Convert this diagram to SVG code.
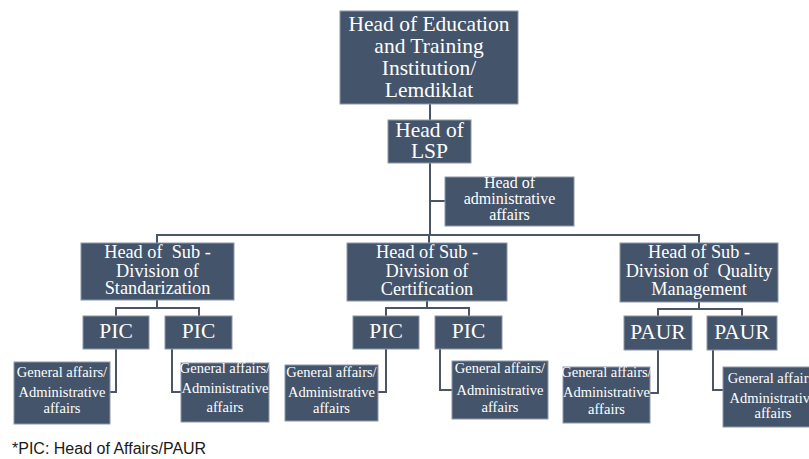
<svg xmlns="http://www.w3.org/2000/svg" width="809" height="459" viewBox="0 0 809 459">
  <style>
    .box { fill: #44546a; stroke: #8d98a8; stroke-width: 1; }
    .lbl { fill: #ffffff; font-family: "Liberation Serif", "Times New Roman", serif; text-anchor: middle; }
    .t1 { font-size: 21.5px; }
    .t2 { font-size: 18.3px; }
    .t3 { font-size: 16px; }
    .t4 { font-size: 14.5px; }
    .conn { fill: none; stroke: #4a5566; stroke-width: 2; }
    .note { fill: #1a1a1a; font-family: "Liberation Sans", Arial, sans-serif; font-size: 16px; }
  </style>

  <rect width="809" height="459" fill="#ffffff"/>

  <!-- connectors -->
  <g id="connectors" class="conn">
    <path d="M430 104 V120"/>
    <path d="M430 163 V235"/>
    <path d="M430 201 H445"/>
    <path d="M157 243 V235 H699 V243"/>
    <path d="M429 235 V243"/>
    <!-- standardization -->
    <path d="M157 300 V308"/>
    <path d="M116 316 V308 H199 V316"/>
    <!-- certification -->
    <path d="M427 301 V308"/>
    <path d="M386 316 V308 H469 V316"/>
    <!-- quality management -->
    <path d="M699 302 V309"/>
    <path d="M658 316 V309 H742 V316"/>
    <!-- general affairs links -->
    <path d="M116 349 V392 H110"/>
    <path d="M172 349 V392 H181"/>
    <path d="M386 349 V392 H378"/>
    <path d="M440 349 V390 H452"/>
    <path d="M658 350 V393 H650"/>
    <path d="M713 350 V390 H723"/>
  </g>

  <g id="lemdiklat">
    <rect class="box" x="340" y="11" width="178" height="93"/>
    <text class="lbl t1" x="429" y="31">Head of Education</text>
    <text class="lbl t1" x="429" y="53">and Training</text>
    <text class="lbl t1" x="429" y="75">Institution/</text>
    <text class="lbl t1" x="429" y="97">Lemdiklat</text>
  </g>

  <g id="head-lsp">
    <rect class="box" x="388" y="120" width="83" height="43"/>
    <text class="lbl t1" x="429.5" y="137">Head of</text>
    <text class="lbl t1" x="429.5" y="158">LSP</text>
  </g>

  <g id="admin-affairs">
    <rect class="box" x="445" y="177" width="129" height="49"/>
    <text class="lbl t3" x="509.5" y="188">Head of</text>
    <text class="lbl t3" x="509.5" y="204">administrative</text>
    <text class="lbl t3" x="509.5" y="220">affairs</text>
  </g>

  <g id="sub-standardization">
    <rect class="box" x="81" y="243" width="153" height="57"/>
    <text class="lbl t2" x="157.5" y="258" xml:space="preserve">Head of  Sub -</text>
    <text class="lbl t2" x="157.5" y="277">Division of</text>
    <text class="lbl t2" x="157.5" y="294">Standarization</text>
  </g>

  <g id="sub-certification">
    <rect class="box" x="347" y="243" width="160" height="58"/>
    <text class="lbl t2" x="427" y="258">Head of Sub -</text>
    <text class="lbl t2" x="427" y="277">Division of</text>
    <text class="lbl t2" x="427" y="295">Certification</text>
  </g>

  <g id="sub-quality">
    <rect class="box" x="620" y="243" width="158" height="59"/>
    <text class="lbl t2" x="699" y="258">Head of Sub -</text>
    <text class="lbl t2" x="699" y="277" xml:space="preserve">Division of  Quality</text>
    <text class="lbl t2" x="699" y="295">Management</text>
  </g>

  <g id="pic-std-1">
    <rect class="box" x="83" y="316" width="66" height="33"/>
    <text class="lbl t1" x="116" y="338">PIC</text>
  </g>
  <g id="pic-std-2">
    <rect class="box" x="165" y="316" width="67" height="33"/>
    <text class="lbl t1" x="198.5" y="338">PIC</text>
  </g>
  <g id="pic-cert-1">
    <rect class="box" x="353" y="316" width="66" height="33"/>
    <text class="lbl t1" x="386" y="338">PIC</text>
  </g>
  <g id="pic-cert-2">
    <rect class="box" x="435" y="316" width="67" height="33"/>
    <text class="lbl t1" x="468.5" y="338">PIC</text>
  </g>
  <g id="paur-1">
    <rect class="box" x="624" y="316" width="68" height="34"/>
    <text class="lbl t1" x="658" y="339">PAUR</text>
  </g>
  <g id="paur-2">
    <rect class="box" x="707" y="316" width="70" height="34"/>
    <text class="lbl t1" x="742" y="339">PAUR</text>
  </g>

  <g id="ga-std-1">
    <rect class="box" x="14" y="362" width="96" height="62"/>
    <text class="lbl t4" x="62" y="377">General affairs/</text>
    <text class="lbl t4" x="62" y="397">Administrative</text>
    <text class="lbl t4" x="62" y="413">affairs</text>
  </g>
  <g id="ga-std-2">
    <rect class="box" x="181" y="363" width="88" height="59"/>
    <text class="lbl t4" x="225" y="373">General affairs/</text>
    <text class="lbl t4" x="225" y="393">Administrative</text>
    <text class="lbl t4" x="225" y="412">affairs</text>
  </g>
  <g id="ga-cert-1">
    <rect class="box" x="285" y="365" width="93" height="56"/>
    <text class="lbl t4" x="331.5" y="377">General affairs/</text>
    <text class="lbl t4" x="331.5" y="397">Administrative</text>
    <text class="lbl t4" x="331.5" y="413">affairs</text>
  </g>
  <g id="ga-cert-2">
    <rect class="box" x="452" y="361" width="96" height="58"/>
    <text class="lbl t4" x="500" y="373">General affairs/</text>
    <text class="lbl t4" x="500" y="395">Administrative</text>
    <text class="lbl t4" x="500" y="412">affairs</text>
  </g>
  <g id="ga-qm-1">
    <rect class="box" x="563" y="367" width="87" height="56"/>
    <text class="lbl t4" x="606.5" y="377">General affairs/</text>
    <text class="lbl t4" x="606.5" y="397">Administrative</text>
    <text class="lbl t4" x="606.5" y="414">affairs</text>
  </g>
  <g id="ga-qm-2">
    <rect class="box" x="723" y="367" width="100" height="60"/>
    <text class="lbl t4" x="773" y="383">General affairs/</text>
    <text class="lbl t4" x="773" y="403">Administrative</text>
    <text class="lbl t4" x="773" y="418">affairs</text>
  </g>

  <text class="note" x="12" y="454">*PIC: Head of Affairs/PAUR</text>
</svg>
